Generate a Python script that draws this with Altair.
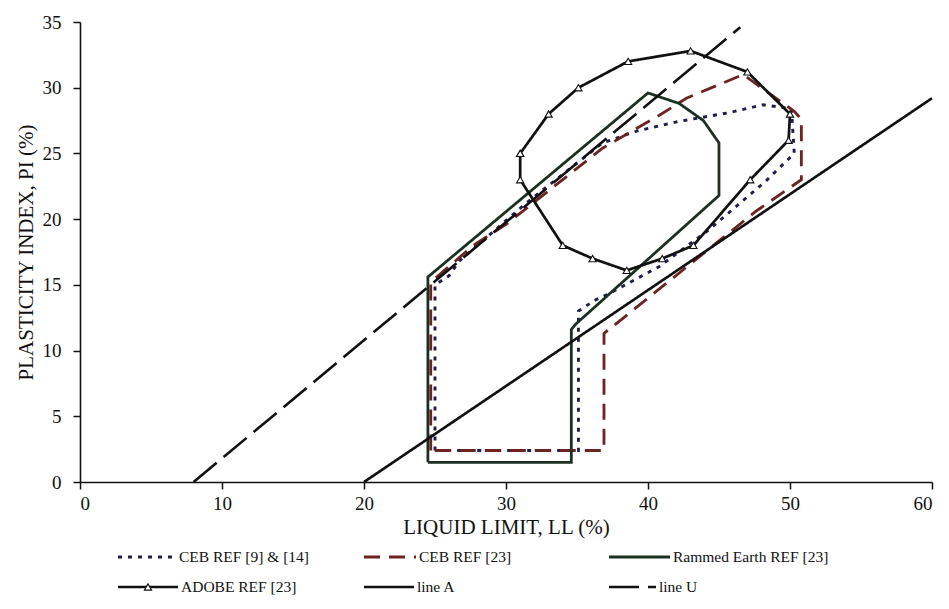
import altair as alt
import pandas as pd

# ---------------- data ----------------
series_names = ["CEB REF [9] & [14]", "CEB REF [23]", "Rammed Earth REF [23]",
                "ADOBE REF [23]", "line A", "line U"]

ceb914_ll = [25.0, 25.0, 26.0, 26.7, 31.4, 36.8, 39.2, 42.0, 45.7, 48.1, 50.1, 50.3,
             48.3, 44.3, 40.8, 37.2, 36.2, 35.1, 35.1, 25.0]
ceb914_pi = [2.4, 15.0, 15.7, 16.8, 21.2, 25.8, 26.7, 27.4, 28.1, 28.7, 28.4, 25.0,
             22.9, 19.2, 16.4, 14.3, 13.8, 13.0, 2.4, 2.4]

ceb23_ll = [24.7, 24.7, 27.7, 30.0, 36.8, 40.8, 42.7, 46.7, 50.3, 50.8, 50.8, 47.6,
            36.9, 36.9, 24.7]
ceb23_pi = [2.4, 15.2, 18.0, 19.6, 25.4, 27.9, 29.2, 31.0, 28.2, 27.6, 23.0, 20.6,
            11.3, 2.4, 2.4]

rammed_ll = [24.5, 24.5, 40.0, 42.2, 43.9, 45.0, 45.0, 34.9, 34.6, 34.6, 24.5]
rammed_pi = [1.5, 15.6, 29.6, 28.8, 27.5, 25.8, 21.8, 12.0, 11.6, 1.5, 1.5]

adobe_ll = [31.0, 33.0, 35.1, 38.6, 43.0, 47.0, 50.0, 49.9, 47.2, 43.2, 41.0, 38.5,
            36.1, 34.0, 31.0, 31.0]
adobe_pi = [25.0, 28.0, 30.0, 32.0, 32.8, 31.2, 28.0, 26.0, 23.0, 18.0, 17.0, 16.1,
            17.0, 18.0, 23.0, 25.0]

lineA_ll = [20.0, 60.0]
lineA_pi = [0.0, 29.2]

lineU_ll = [8.0, 46.5]
lineU_pi = [0.0, 34.6]

x_ticks = [0, 10, 20, 30, 40, 50, 60]
y_ticks = [0, 5, 10, 15, 20, 25, 30, 35]

# ---------------- build tables ----------------
all_ll = [ceb914_ll, ceb23_ll, rammed_ll, adobe_ll, lineA_ll, lineU_ll]
all_pi = [ceb914_pi, ceb23_pi, rammed_pi, adobe_pi, lineA_pi, lineU_pi]
rows = []
for name, lls, pis in zip(series_names, all_ll, all_pi):
    for i, (a, b) in enumerate(zip(lls, pis)):
        rows.append({"series": name, "i": i, "LL": a, "PI": b})
df = pd.DataFrame(rows)

# ---------------- styles ----------------
colors = ["#1d1e4a", "#6e2323", "#1b3020", "#111111", "#111111", "#111111"]
dashes = [[4, 6], [16, 9], [1, 0], [1, 0], [1, 0], [30, 9]]
widths = [2.9, 2.6, 2.6, 1.3, 1.2, 1.2]

color_scale = alt.Scale(domain=series_names, range=colors)
dash_scale = alt.Scale(domain=series_names, range=dashes)
width_scale = alt.Scale(domain=series_names, range=widths)

FONT = "Liberation Serif"

x_enc = alt.X("LL:Q", scale=alt.Scale(domain=[0, 60], nice=False),
              axis=alt.Axis(values=x_ticks, title="LIQUID LIMIT, LL (%)",
                            labelPadding=5, titlePadding=3))
y_enc = alt.Y("PI:Q", scale=alt.Scale(domain=[0, 35], nice=False),
              axis=alt.Axis(values=y_ticks, title="PLASTICITY INDEX, PI (%)",
                            labelPadding=12, titlePadding=6))

lines = alt.Chart(df).mark_line(strokeCap="butt", strokeJoin="miter").encode(
    x=x_enc,
    y=y_enc,
    detail="series:N",
    order=alt.Order("i:Q"),
    color=alt.Color("series:N", scale=color_scale, legend=None),
    strokeDash=alt.StrokeDash("series:N", scale=dash_scale, legend=None),
    strokeWidth=alt.StrokeWidth("series:N", scale=width_scale, legend=None),
)

tri = alt.Chart(df).transform_filter(
    alt.datum.series == "ADOBE REF [23]"
).mark_point(shape="triangle-up", size=52, filled=True, fill="white",
             stroke="#111111", strokeWidth=1.1, opacity=1).encode(
    x="LL:Q", y="PI:Q"
)

main = alt.layer(lines, tri).properties(width=852, height=460)

# ---------------- legend panel (layout) ----------------
col_start = [38, 284, 529]
sym_lens = [58, 52, 61, 60, 50, 47]
leg_rows = []
for k, name in enumerate(series_names):
    c = k % 3
    r = k // 3
    x0 = col_start[c]
    x1 = x0 + sym_lens[k]
    leg_rows.append({"series": name, "x0": x0, "x1": x1,
                     "xm": (x0 + x1) / 2, "xt": x1 + 3, "row": r})
leg_df = pd.DataFrame(leg_rows)

lx = alt.Scale(domain=[0, 852], range=[0, 852])
ly = alt.Scale(domain=[-0.3, 1.3], reverse=True)

leg_lines = alt.Chart(leg_df).mark_rule(strokeCap="butt").encode(
    x=alt.X("x0:Q", scale=lx, axis=None),
    x2="x1:Q",
    y=alt.Y("row:Q", scale=ly, axis=None),
    color=alt.Color("series:N", scale=color_scale, legend=None),
    strokeDash=alt.StrokeDash("series:N", scale=dash_scale, legend=None),
    strokeWidth=alt.StrokeWidth("series:N", scale=width_scale, legend=None),
)
leg_tri = alt.Chart(leg_df).transform_filter(
    alt.datum.series == "ADOBE REF [23]"
).mark_point(shape="triangle-up", size=52, filled=True, fill="white",
             stroke="#111111", strokeWidth=1.1, opacity=1).encode(
    x=alt.X("xm:Q", scale=lx, axis=None),
    y=alt.Y("row:Q", scale=ly, axis=None),
)
leg_text = alt.Chart(leg_df).mark_text(align="left", baseline="middle", font=FONT,
                                        fontSize=15.5, color="#111111").encode(
    x=alt.X("xt:Q", scale=lx, axis=None),
    y=alt.Y("row:Q", scale=ly, axis=None),
    text="series:N",
)
legend_panel = alt.layer(leg_lines, leg_tri, leg_text).properties(width=852, height=48)

chart = alt.vconcat(main, legend_panel, spacing=11).properties(
    padding={"left": 7, "top": 5, "right": 0, "bottom": 2},
    background="white",
).configure_view(stroke=None).configure_axis(
    grid=False,
    domainColor="#111111",
    domainWidth=1.6,
    tickColor="#111111",
    tickWidth=1.5,
    tickSize=7,
    labelFont=FONT,
    labelFontSize=19,
    labelColor="#111111",
    titleFont=FONT,
    titleFontSize=21,
    titleFontWeight="normal",
    titleColor="#111111",
)

chart.save("out.html", embed_options={"renderer": "svg", "actions": False})
